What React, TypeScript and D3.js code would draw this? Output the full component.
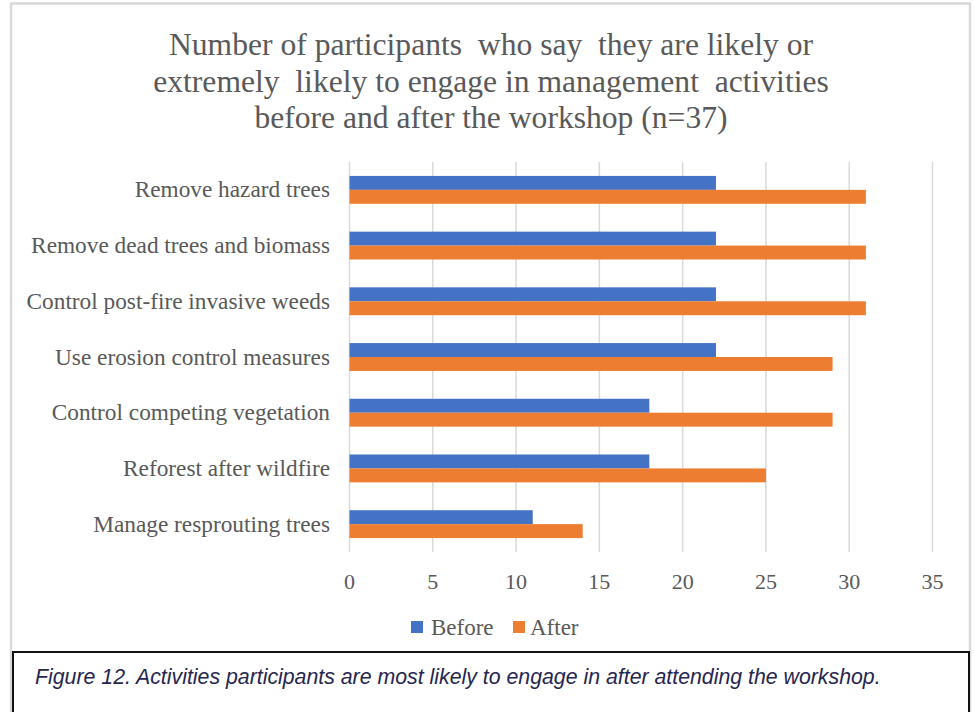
import React from "react";
import * as d3 from "d3";

const categories = [
  "Remove hazard trees",
  "Remove dead trees and biomass",
  "Control post-fire invasive weeds",
  "Use erosion control measures",
  "Control competing vegetation",
  "Reforest after wildfire",
  "Manage resprouting trees",
];
const beforeValues = [22, 22, 22, 22, 18, 18, 11];
const afterValues = [31, 31, 31, 29, 29, 25, 14];
const seriesNames = ["Before", "After"];
const seriesColors = ["#4472C4", "#ED7D31"];
const xTicks = [0, 5, 10, 15, 20, 25, 30, 35];
const titleLines = [
  "Number of participants  who say  they are likely or",
  "extremely  likely to engage in management  activities",
  "before and after the workshop (n=37)",
];
const caption =
  "Figure 12. Activities participants are most likely to engage in after attending the workshop.";

const W = 975;
const H = 712;
const serif = "'Liberation Serif', 'Times New Roman', serif";
const sans = "'Liberation Sans', Arial, sans-serif";
const textGray = "#595959";

export default function App() {
  const x = d3.scaleLinear().domain([0, 35]).range([349.5, 932.5]);
  const y = d3
    .scaleBand<string>()
    .domain(categories)
    .range([162, 552])
    .paddingInner(0.5)
    .paddingOuter(0.25);
  const ySub = d3
    .scaleBand<string>()
    .domain(seriesNames)
    .range([0, y.bandwidth()]);
  const series = [beforeValues, afterValues];

  return (
    <svg
      width={W}
      height={H}
      style={{ position: "absolute", left: 0, top: 0, background: "#fff" }}
    >
      {/* chart frame */}
      <rect x={11} y={3.5} width={959} height={H} fill="#fff" stroke="#d9d9d9" strokeWidth={2.5} />

      {/* title */}
      {titleLines.map((t, i) => (
        <text
          key={i}
          x={491}
          y={55 + i * 36.5}
          textAnchor="middle"
          fontFamily={serif}
          fontSize={31.6}
          fill={textGray}
          style={{ whiteSpace: "pre" }}
        >
          {t}
        </text>
      ))}

      {/* vertical gridlines */}
      {xTicks.map((t) => (
        <line
          key={t}
          x1={x(t)}
          x2={x(t)}
          y1={162}
          y2={552}
          stroke="#d9d9d9"
          strokeWidth={1.5}
        />
      ))}

      {/* bars */}
      {categories.map((c, ci) =>
        series.map((vals, si) => (
          <rect
            key={c + si}
            x={x(0)}
            y={(y(c) ?? 0) + (ySub(seriesNames[si]) ?? 0)}
            width={x(vals[ci]) - x(0)}
            height={ySub.bandwidth()}
            fill={seriesColors[si]}
          />
        ))
      )}

      {/* category labels */}
      {categories.map((c) => (
        <text
          key={c}
          x={330}
          y={(y(c) ?? 0) + y.bandwidth() / 2 + 7.5}
          textAnchor="end"
          fontFamily={serif}
          fontSize={23.3}
          fill={textGray}
        >
          {c}
        </text>
      ))}

      {/* x tick labels */}
      {xTicks.map((t) => (
        <text
          key={t}
          x={x(t)}
          y={589}
          textAnchor="middle"
          fontFamily={serif}
          fontSize={22}
          fill={textGray}
        >
          {t}
        </text>
      ))}

      {/* legend */}
      <rect x={411} y={621} width={12} height={12} fill={seriesColors[0]} />
      <text x={431} y={634.5} fontFamily={serif} fontSize={23} fill={textGray}>
        {seriesNames[0]}
      </text>
      <rect x={513} y={621} width={12} height={12} fill={seriesColors[1]} />
      <text x={530} y={634.5} fontFamily={serif} fontSize={23} fill={textGray}>
        {seriesNames[1]}
      </text>

      {/* caption box */}
      <rect x={13} y={652} width={956} height={80} fill="#fff" stroke="#111" strokeWidth={2} />
      <text
        x={35}
        y={684}
        fontFamily={sans}
        fontStyle="italic"
        fontSize={21.3}
        fill="#262650"
      >
        {caption}
      </text>
    </svg>
  );
}
